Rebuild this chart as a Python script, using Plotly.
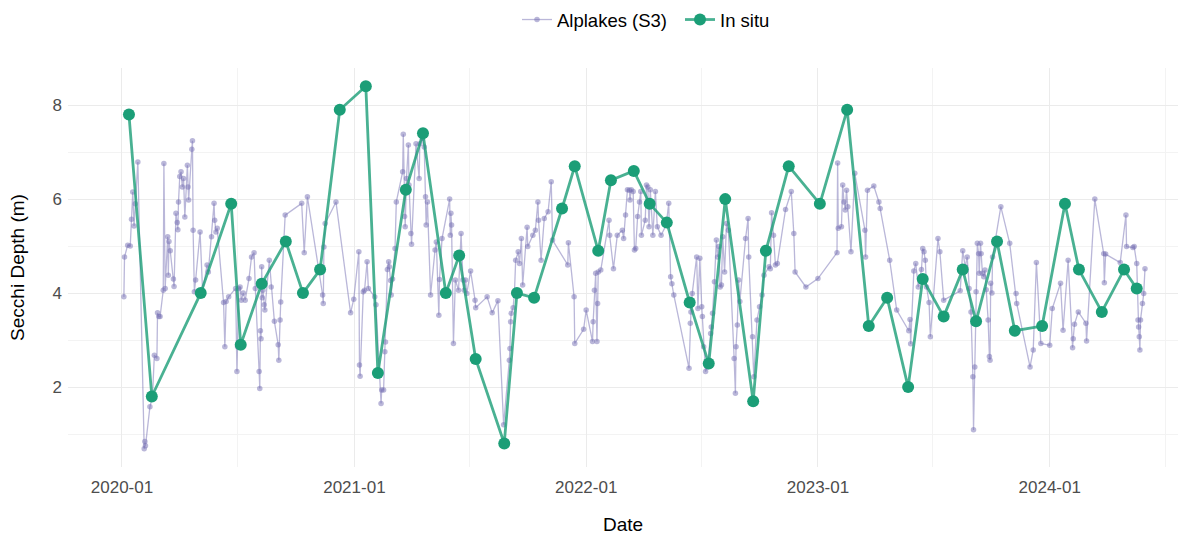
import pandas as pd
import plotly.graph_objects as go

# ---- In situ Secchi depth measurements ----
insitu_dates = [
    "2020-01-12", "2020-02-17", "2020-05-04", "2020-06-21", "2020-07-06", "2020-08-08",
    "2020-09-15", "2020-10-12", "2020-11-08", "2020-12-09", "2021-01-19", "2021-02-07",
    "2021-03-23", "2021-04-19", "2021-05-25", "2021-06-15", "2021-07-11", "2021-08-25",
    "2021-09-14", "2021-10-11", "2021-11-24", "2021-12-14", "2022-01-20", "2022-02-09",
    "2022-03-17", "2022-04-11", "2022-05-08", "2022-06-13", "2022-07-13", "2022-08-08",
    "2022-09-21", "2022-10-11", "2022-11-16", "2023-01-04", "2023-02-16", "2023-03-22",
    "2023-04-20", "2023-05-23", "2023-06-15", "2023-07-18", "2023-08-17", "2023-09-07",
    "2023-10-10", "2023-11-07", "2023-12-20", "2024-01-25", "2024-02-16", "2024-03-23",
    "2024-04-27", "2024-05-17",
]
insitu_values = [
    7.8, 1.8, 4.0, 5.9, 2.9, 4.2, 5.1, 4.0, 4.5, 7.9, 8.4, 2.3,
    6.2, 7.4, 4.0, 4.8, 2.6, 0.8, 4.0, 3.9, 5.8, 6.7, 4.9, 6.4,
    6.6, 5.9, 5.5, 3.8, 2.5, 6.0, 1.7, 4.9, 6.7, 5.9, 7.9, 3.3,
    3.9, 2.0, 4.3, 3.5, 4.5, 3.4, 5.1, 3.2, 3.3, 5.9, 4.5, 3.6,
    4.5, 4.1,
]

# ---- Alplakes (Sentinel-3) retrievals: days since 2020-01-01 and depth (m) ----
s3_day = [
    3, 4, 9, 13, 15, 17, 19, 21, 25, 35, 36, 37, 44, 48, 51, 55, 56, 58, 60, 65,
    66, 68, 72, 73, 74, 76, 81, 82, 85, 87, 88, 89, 91, 93, 95, 97, 99, 103, 104, 105,
    110, 111, 112, 114, 116, 123, 127, 134, 136, 141, 145, 146, 148, 150, 160, 162, 164, 168, 179, 181,
    182, 184, 186, 188, 191, 194, 200, 204, 208, 210, 216, 217, 218, 219, 220, 221, 222, 224, 225, 232,
    235, 240, 246, 247, 249, 250, 257, 283, 287, 292, 316, 317, 318, 320, 337, 360, 365, 373, 374, 375,
    380, 382, 386, 388, 398, 400, 408, 409, 412, 414, 415, 418, 420, 421, 423, 424, 426, 430, 432, 442,
    443, 445, 446, 448, 451, 452, 455, 456, 463, 468, 469, 473, 476, 478, 479, 481, 486, 493, 495, 499,
    500, 504, 516, 517, 518, 519, 522, 525, 530, 534, 537, 539, 541, 543, 549, 556, 557, 575, 583, 592,
    601, 610, 611, 612, 613, 616, 618, 620, 624, 626, 629, 631, 638, 639, 647, 651, 655, 656, 660, 665,
    671, 676, 678, 702, 703, 712, 713, 727, 731, 741, 742, 744, 746, 748, 749, 750, 754, 767, 768, 774,
    780, 788, 790, 793, 796, 799, 800, 802, 805, 807, 809, 812, 815, 817, 818, 824, 826, 828, 830, 832,
    836, 840, 843, 849, 857, 861, 864, 866, 869, 893, 895, 896, 898, 905, 907, 910, 913, 914, 916, 919,
    922, 927, 928, 930, 933, 936, 938, 940, 942, 944, 946, 949, 952, 955, 964, 966, 967, 969, 971, 973,
    982, 986, 987, 993, 995, 1000, 1004, 1008, 1011, 1019, 1021, 1023, 1026, 1029, 1032, 1045, 1054, 1058, 1060, 1077,
    1096, 1126, 1127, 1128, 1133, 1135, 1137, 1139, 1141, 1143, 1148, 1154, 1170, 1171, 1174, 1184, 1192, 1194, 1209, 1220,
    1239, 1241, 1242, 1247, 1250, 1254, 1259, 1261, 1263, 1265, 1267, 1271, 1273, 1285, 1288, 1294, 1320, 1324, 1328, 1331,
    1334, 1337, 1340, 1341, 1343, 1345, 1347, 1349, 1350, 1352, 1353, 1355, 1357, 1359, 1361, 1364, 1366, 1367, 1368, 1370,
    1371, 1384, 1398, 1408, 1409, 1430, 1435, 1440, 1447, 1461, 1465, 1478, 1482, 1490, 1497, 1498, 1500, 1506, 1518, 1519,
    1532, 1546, 1547, 1549, 1572, 1581, 1582, 1592, 1594, 1598, 1600, 1601, 1602, 1603, 1604, 1607, 1609, 1611,
]
s3_values = [
    3.92, 4.77, 5.02, 5.0, 5.57, 6.15, 5.43, 5.9, 6.79, 0.69, 0.84, 0.75, 1.58, 1.8, 2.68, 2.61, 3.58, 3.5, 3.5, 4.06,
    6.76, 4.1, 5.2, 4.38, 5.1, 4.9, 4.3, 4.14, 5.7, 5.5, 5.35, 5.94, 6.48, 6.58, 6.26, 6.44, 5.62, 6.72, 6.26, 5.98,
    7.06, 7.24, 5.34, 4.03, 4.28, 5.3, 4.03, 4.6, 4.45, 5.2, 5.91, 5.55, 5.3, 5.38, 3.8, 2.86, 3.82, 3.92, 4.1, 2.33,
    2.86, 4.1, 4.13, 3.85, 4.0, 3.85, 4.31, 4.77, 4.86, 4.1, 2.33, 1.97, 3.2, 3.03, 4.56, 3.9, 4.06, 3.75, 3.64, 4.7,
    4.13, 3.4, 2.9, 2.57, 3.43, 3.81, 5.66, 5.91, 4.86, 6.05, 3.96, 3.78, 4.98, 5.48, 5.94, 3.58, 3.87, 4.88, 2.47, 2.23,
    4.03, 4.06, 4.67, 4.1, 3.92, 3.75, 1.65, 1.94, 1.94, 2.75, 2.96, 4.5, 4.67, 4.56, 4.27, 3.96, 4.3, 4.95, 5.94, 6.58,
    7.38, 5.63, 5.41, 6.44, 7.15, 6.3, 5.27, 5.04, 7.18, 6.44, 7.18, 7.29, 7.11, 6.05, 5.45, 5.94, 3.96, 4.92, 5.09, 3.53,
    4.29, 5.16, 6.0, 5.23, 5.7, 5.45, 2.93, 4.28, 4.06, 5.27, 4.28, 4.06, 4.28, 3.99, 4.47, 3.85, 3.69, 3.92, 3.58, 3.84,
    1.2, 2.57, 2.82, 3.39, 3.57, 3.69, 3.99, 4.7, 4.88, 4.63, 5.16, 4.17, 5.4, 4.99, 5.23, 5.34, 5.94, 5.55, 4.7, 5.59,
    5.73, 6.37, 5.13, 4.6, 5.07, 3.92, 2.93, 3.23, 3.64, 2.97, 3.39, 4.06, 4.42, 2.97, 3.78, 4.45, 4.49, 5.55, 5.23, 4.52,
    5.23, 5.34, 5.16, 5.66, 6.2, 6.19, 5.98, 6.2, 6.16, 4.92, 4.95, 5.63, 5.94, 6.16, 5.23, 5.55, 6.3, 6.26, 5.41, 6.2,
    5.23, 6.16, 5.41, 5.23, 5.45, 5.91, 4.35, 4.2, 3.96, 2.4, 3.36, 3.6, 3.99, 4.77, 3.67, 4.74, 3.71, 3.5, 2.86, 2.33,
    2.43, 3.14, 3.28, 3.57, 4.24, 5.13, 4.77, 4.99, 4.13, 4.17, 5.2, 4.45, 5.48, 5.34, 2.61, 1.87, 2.86, 3.32, 4.28, 3.82,
    5.16, 5.59, 4.77, 3.07, 2.22, 3.43, 3.71, 3.96, 4.38, 4.56, 4.52, 5.71, 5.23, 4.6, 4.63, 5.78, 6.16, 5.27, 4.45, 4.13,
    4.31, 4.86, 6.77, 5.38, 5.41, 6.3, 5.94, 5.77, 6.19, 5.84, 4.88, 6.55, 5.34, 4.77, 6.19, 6.28, 5.94, 5.8, 4.7, 3.64,
    3.2, 3.44, 2.92, 4.47, 4.63, 4.13, 4.5, 4.95, 4.88, 4.7, 4.13, 3.8, 3.07, 5.16, 4.88, 3.85, 4.05, 4.9, 4.56, 4.77,
    4.1, 3.6, 2.22, 1.09, 2.43, 4.03, 5.06, 4.84, 4.42, 5.06, 4.84, 4.42, 4.35, 4.49, 4.07, 3.43, 2.65, 2.57, 4.21, 4.0,
    4.77, 5.84, 5.06, 3.99, 3.78, 2.43, 2.79, 4.65, 2.93, 2.89, 3.67, 4.21, 3.21, 4.7, 2.84, 3.03, 3.34, 3.6, 3.36, 2.98,
    6.0, 4.84, 4.22, 4.83, 4.65, 5.66, 4.99, 4.97, 4.99, 4.63, 3.43, 3.28, 3.07, 2.79, 3.43, 3.78, 3.99, 4.52,
]

x_tick_values = ["2020-01-01", "2021-01-01", "2022-01-01", "2023-01-01", "2024-01-01"]
x_tick_labels = ["2020-01", "2021-01", "2022-01", "2023-01", "2024-01"]
x_minor_values = ["2019-07-01", "2020-07-01", "2021-07-01", "2022-07-01", "2023-07-01", "2024-07-01"]
y_tick_values = [2, 4, 6, 8]
y_minor_values = [1, 3, 5, 7]

s3_dates = pd.Timestamp("2020-01-01") + pd.to_timedelta(s3_day, unit="D")

GREEN = "#1B9E77"
FONT = "Liberation Sans, Arial, sans-serif"

fig = go.Figure()
fig.add_trace(go.Scatter(
    x=s3_dates, y=s3_values, name="Alplakes (S3)", mode="lines+markers",
    line=dict(color="rgba(117,112,179,0.5)", width=1.3),
    marker=dict(color="rgba(117,112,179,0.5)", size=5.5),
))
fig.add_trace(go.Scatter(
    x=pd.to_datetime(insitu_dates), y=insitu_values, name="In situ", mode="lines+markers",
    line=dict(color="rgba(27,158,119,0.8)", width=2.8),
    marker=dict(color=GREEN, size=12),
))

grid = "#EBEBEB"
minor_grid = "#F3F3F3"
fig.update_layout(
    width=1192, height=537,
    paper_bgcolor="white", plot_bgcolor="white",
    margin=dict(l=68, r=14, t=68, b=70),
    font=dict(family=FONT, size=17, color="#000000"),
    showlegend=True,
    legend=dict(orientation="h", x=517 / 1192, xanchor="left", xref="container",
                y=1 - 20 / 537, yanchor="middle", yref="container",
                entrywidth=118, entrywidthmode="pixels",
                font=dict(size=18.5, color="#000000")),
    xaxis=dict(
        range=["2019-10-08", "2024-07-21"], automargin=False,
        tickmode="array", tickvals=x_tick_values, ticktext=x_tick_labels,
        showgrid=True, gridcolor=grid, gridwidth=1.2, zeroline=False, showline=False,
        ticks="", ticklabelstandoff=8, tickfont=dict(size=17, color="#4D4D4D"),
        minor=dict(tickmode="array", tickvals=x_minor_values,
                   showgrid=True, gridcolor=minor_grid, gridwidth=1),
        title=dict(text="Date", font=dict(size=19, color="#000000"), standoff=21),
    ),
    yaxis=dict(
        range=[0.30, 8.79], automargin=False,
        tickmode="array", tickvals=y_tick_values,
        showgrid=True, gridcolor=grid, gridwidth=1.2, zeroline=False, showline=False,
        ticks="", ticklabelstandoff=5, tickfont=dict(size=17, color="#4D4D4D"),
        minor=dict(tickmode="array", tickvals=y_minor_values, showgrid=True,
                   gridcolor=minor_grid, gridwidth=1),
        title=dict(text="Secchi Depth (m)", font=dict(size=19, color="#000000"), standoff=22),
    ),
)

fig.write_html("out.html", config={"displayModeBar": False},
               post_script="document.body.style.margin='0px';")
